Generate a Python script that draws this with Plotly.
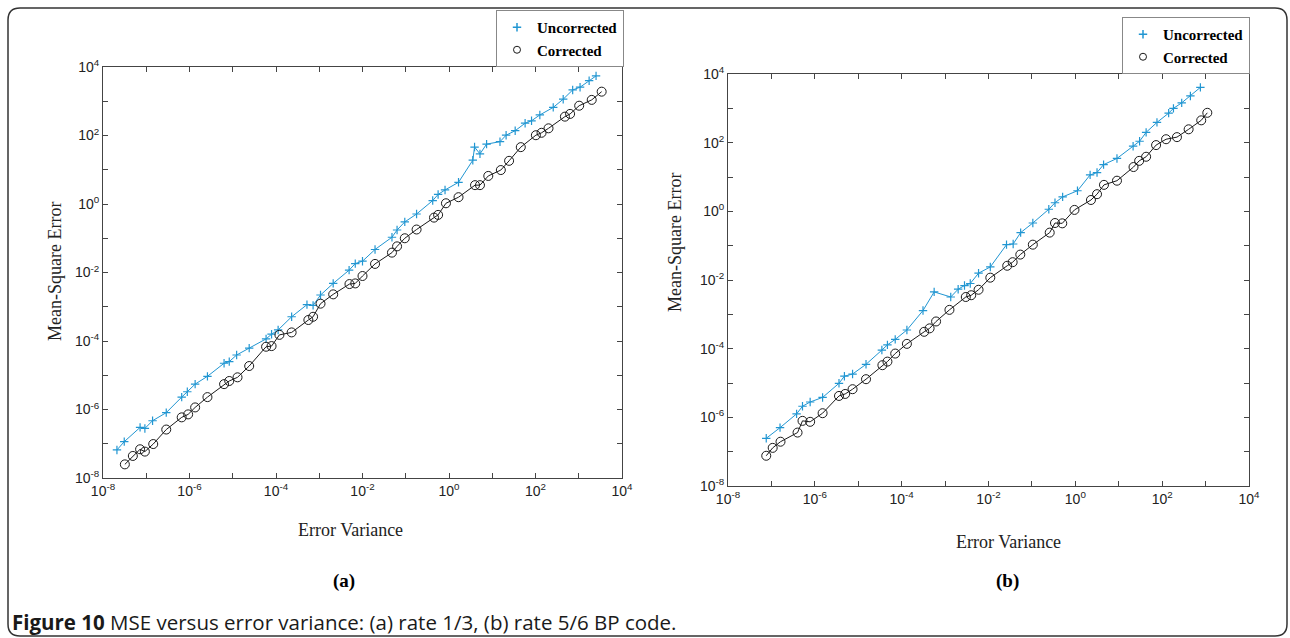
import plotly.graph_objects as go

# ---------------- data: (a) rate 1/3 ----------------
a_unc_x = [2.1e-8, 3.1e-8, 7.2e-8, 9.3e-8, 1.4e-7, 2.9e-7, 6.6e-7, 8.9e-7, 1.35e-6, 2.6e-6,
           6.3e-6, 8.3e-6, 1.23e-5, 2.4e-5, 5.9e-5, 7.9e-5, 1.12e-4, 2.3e-4, 5.2e-4, 7.2e-4,
           1.07e-3, 2.1e-3, 4.9e-3, 6.8e-3, 1.0e-2, 1.95e-2, 4.8e-2, 6.3e-2, 9.5e-2, 0.178,
           0.42, 0.56, 0.81, 1.66, 3.55, 3.9, 5.2, 7.4, 15.1, 20.9,
           33.9, 57.5, 81, 126, 257, 437, 724, 1072, 1738, 2512]
a_unc_y = [6.6e-8, 1.15e-7, 3.0e-7, 2.8e-7, 4.7e-7, 8.1e-7, 2.3e-6, 3.3e-6, 5.5e-6, 9.3e-6,
           2.24e-5, 2.5e-5, 3.9e-5, 6.2e-5, 1.15e-4, 1.58e-4, 2.1e-4, 5.1e-4, 1.15e-3, 1.1e-3,
           2.2e-3, 4.8e-3, 1.17e-2, 1.82e-2, 2.14e-2, 4.7e-2, 0.107, 0.174, 0.30, 0.51,
           1.26, 1.9, 2.57, 4.3, 19, 46, 29, 56, 66, 102,
           138, 229, 269, 398, 661, 1148, 2138, 2570, 3981, 5495]
a_cor_x = [3.2e-8, 4.9e-8, 7.2e-8, 9.3e-8, 1.45e-7, 2.9e-7, 6.6e-7, 9.3e-7, 1.35e-6, 2.6e-6,
           6.3e-6, 8.3e-6, 1.29e-5, 2.4e-5, 5.9e-5, 7.9e-5, 1.2e-4, 2.3e-4, 5.6e-4, 7.2e-4,
           1.07e-3, 2.1e-3, 5.0e-3, 6.8e-3, 1.0e-2, 1.95e-2, 4.8e-2, 6.3e-2, 9.5e-2, 0.178,
           0.45, 0.56, 0.85, 1.66, 4.0, 5.2, 8.1, 15.8, 24.5, 45.7,
           102, 138, 200, 479, 631, 1023, 1995, 3388]
a_cor_y = [2.5e-8, 4.4e-8, 6.9e-8, 5.9e-8, 9.8e-8, 2.6e-7, 5.9e-7, 7.2e-7, 1.15e-6, 2.3e-6,
           5.5e-6, 6.8e-6, 8.7e-6, 1.86e-5, 6.8e-5, 7.1e-5, 1.51e-4, 1.78e-4, 4.1e-4, 5.1e-4,
           1.23e-3, 2.3e-3, 4.6e-3, 4.8e-3, 7.9e-3, 1.78e-2, 3.8e-2, 5.8e-2, 0.10, 0.18,
           0.40, 0.48, 1.05, 1.58, 3.55, 3.55, 6.6, 9.8, 18.2, 45.7,
           102, 120, 162, 355, 427, 741, 1096, 1905]

# ---------------- data: (b) rate 5/6 ----------------
b_unc_x = [7.6e-8, 1.58e-7, 3.8e-7, 5.2e-7, 7.8e-7, 1.51e-6, 3.6e-6, 4.8e-6, 7.4e-6, 1.51e-5,
           3.5e-5, 4.7e-5, 7.1e-5, 1.32e-4, 3.1e-4, 5.6e-4, 1.35e-3, 2.0e-3, 2.8e-3, 3.8e-3,
           5.9e-3, 1.1e-2, 2.6e-2, 3.7e-2, 5.5e-2, 0.105, 0.245, 0.34, 0.51, 1.12,
           2.19, 3.16, 4.47, 9.1, 21.4, 30.2, 42.7, 75.9, 141, 182,
           282, 447, 759]
b_unc_y = [2.45e-7, 5.0e-7, 1.26e-6, 2.1e-6, 2.8e-6, 3.8e-6, 9.8e-6, 1.58e-5, 1.82e-5, 3.5e-5,
           9.1e-5, 1.29e-4, 1.86e-4, 3.5e-4, 1.29e-3, 4.5e-3, 3.2e-3, 5.4e-3, 6.9e-3, 7.9e-3,
           1.58e-2, 2.4e-2, 0.107, 0.112, 0.24, 0.457, 1.15, 1.78, 2.63, 3.98,
           11.5, 13.5, 22.9, 34.7, 79, 110, 200, 389, 724, 1000,
           1445, 2291, 4074]
b_cor_x = [7.6e-8, 1.07e-7, 1.62e-7, 4.0e-7, 5.2e-7, 7.8e-7, 1.51e-6, 3.6e-6, 5.0e-6, 7.4e-6,
           1.51e-5, 3.6e-5, 4.7e-5, 7.1e-5, 1.32e-4, 3.3e-4, 4.4e-4, 6.2e-4, 1.26e-3, 3.0e-3,
           4.0e-3, 5.9e-3, 1.1e-2, 2.7e-2, 3.6e-2, 5.4e-2, 0.105, 0.257, 0.34, 0.50,
           0.955, 2.29, 3.16, 4.57, 9.1, 21.9, 29.5, 42.7, 72.4, 123,
           219, 407, 794, 1096]
b_cor_y = [7.6e-8, 1.29e-7, 1.95e-7, 3.6e-7, 7.9e-7, 7.4e-7, 1.32e-6, 4.2e-6, 4.8e-6, 6.6e-6,
           1.29e-5, 3.3e-5, 4.2e-5, 7.2e-5, 1.38e-4, 3.1e-4, 3.9e-4, 6.2e-4, 1.35e-3, 3.2e-3,
           3.6e-3, 5.2e-3, 1.17e-2, 2.6e-2, 3.3e-2, 5.5e-2, 0.107, 0.24, 0.457, 0.447,
           1.1, 2.14, 3.16, 5.9, 7.8, 19.5, 29.5, 38.9, 85, 126,
           145, 245, 447, 741]

tick_exps = list(range(-8, 5))
tick_vals = [10.0 ** e for e in tick_exps]
tick_text = [("10<sup>%d</sup>" % e) if e % 2 == 0 else "" for e in tick_exps]

series_names = ["Uncorrected", "Corrected"]
x_title = "Error Variance"
y_title = "Mean-Square Error"
panel_labels = ["(a)", "(b)"]
caption_bold = "Figure 10"
caption_rest = " MSE versus error variance: (a) rate 1/3, (b) rate 5/6 BP code."

BLUE = "#2196d2"
BLACK = "#1a1a1a"
W, H = 1290, 638


def px(x):
    return x / W


def py(y):
    return 1 - y / H


fig = go.Figure()

panels = [
    (a_unc_x, a_unc_y, a_cor_x, a_cor_y, "x", "y", "legend"),
    (b_unc_x, b_unc_y, b_cor_x, b_cor_y, "x2", "y2", "legend2"),
]
for ux, uy, cx, cy, xa, ya, lg in panels:
    fig.add_trace(go.Scatter(x=ux, y=uy, mode="lines+markers", xaxis=xa, yaxis=ya,
                             line=dict(color=BLUE, width=1),
                             marker=dict(symbol="cross-thin", size=6, color=BLUE,
                                         line=dict(color=BLUE, width=1.2)),
                             showlegend=False))
    fig.add_trace(go.Scatter(x=cx, y=cy, mode="lines+markers", xaxis=xa, yaxis=ya,
                             line=dict(color=BLACK, width=1),
                             marker=dict(symbol="circle-open", size=9, color=BLACK,
                                         line=dict(color=BLACK, width=1)),
                             showlegend=False))
    # legend entries (markers only, as in the reference legend)
    fig.add_trace(go.Scatter(x=[None], y=[None], mode="markers", xaxis=xa, yaxis=ya,
                             name="<b>%s</b>" % series_names[0], legend=lg,
                             marker=dict(symbol="cross-thin", size=6, color=BLUE,
                                         line=dict(color=BLUE, width=1.5))))
    fig.add_trace(go.Scatter(x=[None], y=[None], mode="markers", xaxis=xa, yaxis=ya,
                             name="<b>%s</b>" % series_names[1], legend=lg,
                             marker=dict(symbol="circle-open", size=7, color=BLACK,
                                         line=dict(color=BLACK, width=1))))

axis_common = dict(type="log", range=[-8, 4], showline=True, linecolor="#444", linewidth=1,
                   mirror="ticks", ticks="inside", ticklen=5, tickcolor="#444",
                   tickvals=tick_vals, ticktext=tick_text, showgrid=False, zeroline=False,
                   tickfont=dict(family="Liberation Sans, Arial", size=14, color="#222"))

legend_font = dict(family="Liberation Serif, Times New Roman", size=15, color="black")
fig.update_layout(
    width=W, height=H, margin=dict(l=0, r=0, t=0, b=0, autoexpand=False),
    paper_bgcolor="white", plot_bgcolor="white",
    xaxis=dict(domain=[px(103), px(622)], anchor="y", **axis_common),
    yaxis=dict(domain=[py(478), py(67)], anchor="x", **axis_common),
    xaxis2=dict(domain=[px(728), px(1249)], anchor="y2", **axis_common),
    yaxis2=dict(domain=[py(486), py(74)], anchor="x2", **axis_common),
    legend=dict(x=px(624), y=py(67), xanchor="right", yanchor="bottom",
                bgcolor="white", bordercolor="#888", borderwidth=1,
                font=legend_font, itemwidth=30, tracegroupgap=0),
    legend2=dict(x=px(1250), y=py(74), xanchor="right", yanchor="bottom",
                 bgcolor="white", bordercolor="#888", borderwidth=1,
                 font=legend_font, itemwidth=30, tracegroupgap=0),
    font=dict(family="Liberation Serif", color="black"),
)

ann = []
title_font = dict(family="Liberation Serif, Times New Roman", size=18, color="#222")


def note(x, y, text, font, angle=0, xanchor="center"):
    ann.append(dict(x=px(x), y=py(y), text=text, showarrow=False, xref="paper", yref="paper",
                    xanchor=xanchor, yanchor="middle", textangle=angle, font=font))


note(350, 530, x_title, title_font)
note(1008, 542, x_title, title_font)
note(55, 272, y_title, title_font, angle=-90)
note(675, 243, y_title, title_font, angle=-90)
panel_font = dict(family="Liberation Serif", size=19, color="black")
note(344, 581, "<b>%s</b>" % panel_labels[0], panel_font)
note(1007, 581, "<b>%s</b>" % panel_labels[1], panel_font)
note(10, 622, "<b>%s</b>%s" % (caption_bold, caption_rest),
     dict(family="Open Sans, Noto Sans, Arial", size=20.5, color="#1a1a1a"), xanchor="left")
fig.update_layout(annotations=ann)

# rounded frame around the figure
x0, x1, yt, yb, r = 8, 1287, 8, 636, 12
path = ("M {a},{b} L {c},{b} Q {d},{b} {d},{e} L {d},{f} Q {d},{g} {c},{g} "
        "L {a},{g} Q {h},{g} {h},{f} L {h},{e} Q {h},{b} {a},{b} Z").format(
    a=px(x0 + r), b=py(yt), c=px(x1 - r), d=px(x1), e=py(yt + r), f=py(yb - r), g=py(yb), h=px(x0))
fig.add_shape(type="path", path=path, xref="paper", yref="paper",
              line=dict(color="#333", width=1.5), fillcolor="rgba(0,0,0,0)")

fig.write_html("out.html")
